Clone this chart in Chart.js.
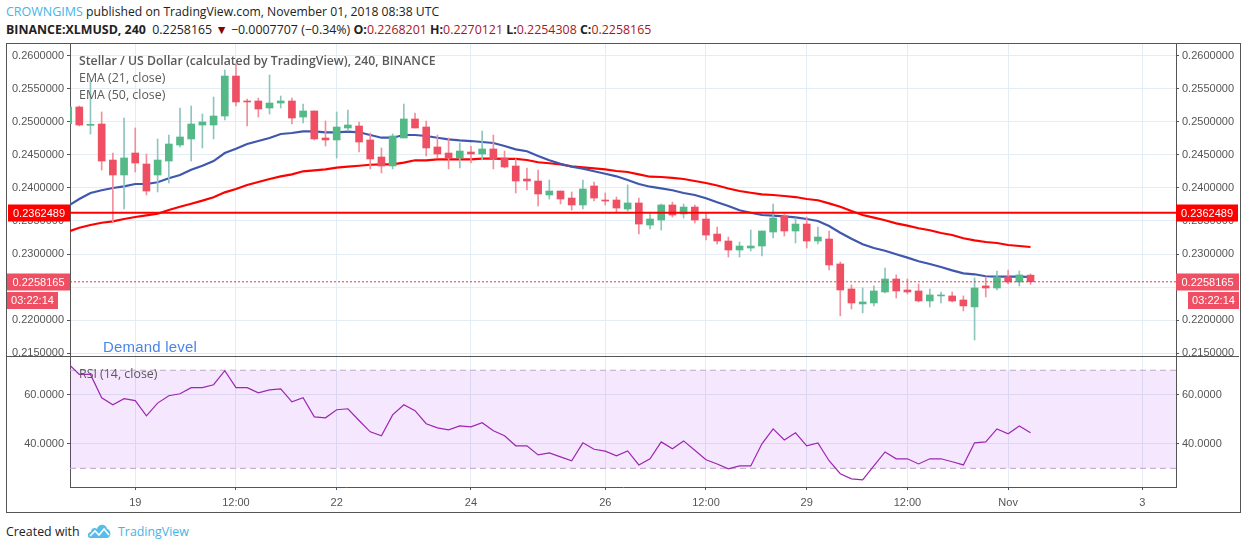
<!DOCTYPE html>
<html>
<head>
<meta charset="utf-8">
<title>XLMUSD</title>
<script src="https://cdn.jsdelivr.net/npm/chart.js@4/dist/chart.umd.min.js"></script>
<style>
    html, body { margin: 0; padding: 0; background: #fff; width: 1246px; height: 549px; overflow: hidden; }
    body { font-family: "Open Sans", sans-serif; position: relative; }
    .abs { position: absolute; white-space: nowrap; }
    #frame { left: 6px; top: 43px; width: 1233px; height: 468px; border: 1px solid #555; }
    #mainCanvas { position: absolute; left: 7px; top: 44px; }
    #rsiCanvas { position: absolute; left: 7px; top: 357px; }
    #sep { left: 7px; top: 356px; width: 1232px; height: 1px; background: #555; }
    .red { color: #a8151a; }
    .legend { color: #5a5a5a; font-size: 12.4px; }
</style>
</head>
<body>
<div class="abs" style="left:6px;top:3px;font-size:12.2px;color:#222"><span style="color:#45b4e6;font-size:12.5px">CROWNGIMS</span> published on TradingView.com, November 01, 2018 08:38 UTC</div>
<div class="abs" style="left:6px;top:21px;font-size:12.4px;color:#222"><b>BINANCE:XLMUSD, 240</b>&nbsp; 0.2258165 <span style="color:#8b0000">▼</span> −0.0007707 (−0.34%) <b>O:</b><span class="red">0.2268201</span> <b>H:</b><span class="red">0.2270121</span> <b>L:</b><span class="red">0.2254308</span> <b>C:</b><span class="red">0.2258165</span></div>

<div class="abs" id="frame"></div>
<canvas id="mainCanvas" width="1232" height="312"></canvas>
<div class="abs" id="sep"></div>
<canvas id="rsiCanvas" width="1232" height="155"></canvas>

<div class="abs legend" style="left:79px;top:52px;font-weight:600;font-size:12.25px">Stellar / US Dollar (calculated by TradingView), 240, BINANCE</div>
<div class="abs legend" style="left:79px;top:69px">EMA (21, close)</div>
<div class="abs legend" style="left:79px;top:86px">EMA (50, close)</div>
<div class="abs" style="left:103px;top:338px;font:15px 'Liberation Sans',sans-serif;color:#4a86e8;letter-spacing:0.2px">Demand level</div>
<div class="abs legend" style="left:79px;top:365px">RSI (14, close)</div>

<div class="abs" style="left:6px;top:523px;font-size:12.4px;color:#222">Created with</div>
<svg class="abs" style="left:87px;top:522px" width="24" height="17" viewBox="0 0 24 17">
    <path d="M3 16 C0 16 0 10 4 10 C4 6 8 5 10 7 C11 2 19 1 20 7 C24 7 25 16 20 16 Z" fill="#56bde8"/>
    <path d="M3 14 L8 9 L12 13 L17 7 L22 13" fill="none" stroke="#fff" stroke-width="1.6"/>
</svg>
<div class="abs" style="left:118px;top:523px;font-size:12.4px;color:#45b4e6">TradingView</div>

<script>
const opens = [.24970,.25222,.24945,.24965,.24421,.24195,.24527,.24361,.24195,.24406,.24648,.24739,.24950,.24950,.25086,.25690,.25313,.25313,.25207,.25282,.25313,.25071,.25162,.24754,.24724,.24905,.24935,.24724,.24467,.24331,.24754,.25041,.24920,.24618,.24527,.24452,.24542,.24512,.24588,.24452,.24331,.24134,.24104,.23893,.23953,.23847,.23742,.24029,.23817,.23817,.23681,.23772,.23439,.23515,.23742,.23606,.23711,.23530,.23303,.23198,.23062,.23092,.23122,.23334,.23575,.23349,.23454,.23198,.23228,.22851,.22473,.22247,.22262,.22428,.22624,.22458,.22443,.22292,.22368,.22368,.22307,.22202,.22519,.22488,.22655,.22579,.2268201];
const highs = [.25222,.25237,.25615,.25147,.24527,.25056,.24905,.24512,.24739,.24799,.25207,.25237,.25116,.25373,.25781,.25872,.25343,.25358,.25706,.25388,.25358,.25267,.25162,.25011,.25147,.25177,.24996,.24829,.24603,.24814,.25267,.25131,.25011,.24799,.24754,.24678,.24633,.24860,.24799,.24557,.24437,.24301,.24270,.24119,.23953,.23938,.24119,.24089,.23923,.23862,.24044,.23847,.23636,.23757,.23787,.23757,.23742,.23621,.23409,.23258,.23183,.23364,.23349,.23757,.23606,.23545,.23560,.23409,.23349,.22881,.22534,.22488,.22519,.22790,.22685,.22624,.22549,.22473,.22428,.22428,.22368,.22640,.22655,.22745,.22760,.22745,.2270121];
const lows = [.24970,.24935,.24814,.24270,.23489,.23681,.24240,.23893,.23938,.24074,.24618,.24406,.24603,.24739,.25026,.25237,.24935,.25071,.25116,.25207,.24965,.24980,.24724,.24633,.24452,.24860,.24542,.24286,.24225,.24286,.24754,.24905,.24482,.24452,.24286,.24301,.24376,.24421,.24286,.24301,.23923,.23968,.23726,.23832,.23757,.23666,.23681,.23802,.23742,.23636,.23651,.23303,.23379,.23364,.23560,.23545,.23470,.23213,.23152,.22956,.22956,.23047,.22972,.23243,.23273,.23168,.23092,.23152,.22760,.22066,.22172,.22111,.22217,.22413,.22337,.22398,.22277,.22202,.22262,.22277,.22141,.21703,.22352,.22458,.22549,.22519,.2254308];
const closes = [.25222,.24950,.24960,.24406,.24195,.24452,.24376,.23953,.24421,.24663,.24769,.24965,.24996,.25086,.25690,.25298,.25298,.25192,.25282,.25313,.25056,.25162,.24739,.24724,.24920,.24950,.24693,.24437,.24331,.24784,.25041,.24905,.24603,.24512,.24452,.24557,.24512,.24588,.24437,.24316,.24104,.24104,.23908,.23953,.23832,.23742,.23983,.23847,.23802,.23696,.23772,.23454,.23530,.23742,.23590,.23711,.23515,.23288,.23198,.23062,.23122,.23122,.23349,.23545,.23349,.23454,.23198,.23258,.22836,.22458,.22262,.22277,.22443,.22624,.22443,.22428,.22292,.22383,.22383,.22292,.22217,.22488,.22488,.22655,.22579,.22685,.2258165];

const ema21 = [.23727,.23832,.23923,.23964,.23998,.24024,.24059,.24059,.24085,.24145,.24195,.24275,.24335,.24406,.24527,.24592,.24663,.24708,.24754,.24814,.24829,.24855,.24855,.24840,.24840,.24849,.24840,.24799,.24758,.24758,.24799,.24799,.24784,.24758,.24734,.24719,.24708,.24693,.24678,.24633,.24583,.24553,.24482,.24417,.24365,.24320,.24290,.24251,.24214,.24175,.24119,.24059,.24018,.23994,.23964,.23923,.23893,.23843,.23782,.23727,.23662,.23625,.23591,.23580,.23571,.23556,.23530,.23500,.23424,.23323,.23233,.23148,.23092,.23051,.22997,.22946,.22891,.22850,.22805,.22755,.22710,.22695,.22665,.22659,.22659,.22659,.22654];
const ema50 = [.23338,.23399,.23440,.23474,.23495,.23530,.23560,.23586,.23610,.23666,.23716,.23761,.23807,.23858,.23933,.23983,.24044,.24089,.24134,.24175,.24205,.24251,.24266,.24281,.24305,.24320,.24335,.24350,.24356,.24356,.24381,.24417,.24417,.24432,.24432,.24432,.24432,.24441,.24441,.24437,.24437,.24421,.24387,.24372,.24356,.24326,.24311,.24296,.24281,.24255,.24240,.24205,.24169,.24165,.24150,.24134,.24104,.24074,.24036,.23991,.23953,.23927,.23903,.23893,.23878,.23862,.23832,.23813,.23767,.23716,.23651,.23591,.23550,.23511,.23465,.23429,.23390,.23360,.23319,.23288,.23239,.23208,.23183,.23168,.23137,.23122,.23107];
const rsi = [72.7,68.3,68.3,58.8,55.9,58.4,57.6,51.4,56.6,59.6,60.4,62.9,62.9,64.1,69.8,62.9,62.9,60.8,62.0,62.4,57.1,58.8,51.0,50.6,53.9,54.3,49.5,44.9,43.3,51.8,55.9,53.5,48.2,46.5,45.7,47.3,46.9,48.6,45.3,43.3,39.2,39.2,35.5,36.3,34.7,33.1,40.4,37.8,37.0,35.1,37.1,31.4,33.9,40.8,38.0,41.2,37.4,33.5,31.8,29.8,31.0,31.0,40.0,46.1,41.6,44.5,39.2,40.4,33.1,27.8,25.7,25.3,31.0,36.7,33.9,33.9,31.8,33.9,33.9,32.7,31.4,40.4,40.8,46.1,44.1,47.3,44.5];

const priceTicks = [0.26, 0.255, 0.25, 0.245, 0.24, 0.235, 0.23, 0.225, 0.22, 0.215];
const rsiTicks = [60, 40];
const timeTickIdx = [6, 15, 24, 36, 48, 57, 66, 75, 84, 96];
const timeTickLabels = ['19', '12:00', '22', '24', '26', '12:00', '29', '12:00', 'Nov', '3'];

const levelLine = 0.2362489;
const lastPrice = 0.2258165;
const rsiUpper = 70;
const rsiLower = 30;

const xMin = 0.17, xMax = 99;
const priceMin = 0.214607, priceMax = 0.261737;
const rsiMin = 22.4, rsiMax = 75.4;
const GREEN = '#53b987', RED = '#ee4f62';
const GREEN_WICK = '#8fc4c0', RED_WICK = '#f28f9d';
const GRID = '#e4edf3', AXIS = '#555';
const TICK_FONT = { family: 'Liberation Sans', size: 11 };

const isUp = i => closes[i] >= opens[i];
const toPoints = arr => arr.map((y, x) => ({ x, y }));
const hLine = y => [{ x: xMin, y }, { x: xMax, y }];

// fix axis sizes so both panes line up with each other
const fixWidth = s => { s.width = 63; s.paddingTop = 0; s.paddingBottom = 0; };

function xScale(showLabels) {
    return {
        type: 'linear', min: xMin, max: xMax, offset: false,
        afterBuildTicks: s => { s.ticks = timeTickIdx.map(value => ({ value })); },
        afterFit: s => { s.height = showLabels ? 25 : 0; s.paddingLeft = 0; s.paddingRight = 0; },
        grid: { color: GRID, offset: false, drawTicks: showLabels, tickLength: 3, tickColor: AXIS },
        border: { display: showLabels, color: AXIS },
        ticks: {
            display: showLabels, autoSkip: false, maxRotation: 0, font: TICK_FONT, color: '#555', padding: 6,
            callback: v => timeTickLabels[timeTickIdx.indexOf(v)]
        }
    };
}

function yScale(position, min, max, tickList, digits, main) {
    return {
        type: 'linear', position, min, max,
        afterBuildTicks: s => { s.ticks = tickList.map(value => ({ value })); },
        afterFit: fixWidth,
        grid: { color: GRID, drawOnChartArea: main, tickLength: 3, tickColor: AXIS },
        border: { color: AXIS },
        ticks: { font: TICK_FONT, color: '#555', padding: 3, autoSkip: false, callback: v => v.toFixed(digits) }
    };
}

// price tags sitting on the axes
function tag(ctx, x, y, w, h, bg, text) {
    ctx.fillStyle = bg;
    ctx.fillRect(x, y, w, h);
    ctx.fillStyle = '#fff';
    ctx.font = "11px 'Liberation Sans'";
    ctx.textAlign = 'center';
    ctx.textBaseline = 'middle';
    ctx.fillText(text, x + w / 2, y + h / 2 + 0.5);
}

const priceTags = {
    id: 'priceTags',
    afterDraw(chart) {
        const { ctx, chartArea: a, scales } = chart;
        const yLevel = Math.round(scales.y.getPixelForValue(levelLine));
        const yLast = Math.round(scales.y.getPixelForValue(lastPrice));
        ctx.save();
        tag(ctx, a.left - 62, yLevel - 8.5, 62, 17, '#ff0000', levelLine.toFixed(7));
        tag(ctx, a.right, yLevel - 8.5, 62, 17, '#ff0000', levelLine.toFixed(7));
        tag(ctx, a.left - 63, yLast - 8.5, 63, 17, RED, lastPrice.toFixed(7));
        tag(ctx, a.right, yLast - 8.5, 63, 17, RED, lastPrice.toFixed(7));
        tag(ctx, a.left - 63, yLast + 10, 51, 17, RED, '03:22:14');
        tag(ctx, a.right + 12, yLast + 10, 51, 17, RED, '03:22:14');
        ctx.restore();
    }
};

const baseOptions = {
    responsive: false,
    animation: false,
    layout: { padding: 0 },
    plugins: { legend: { display: false }, tooltip: { enabled: false } },
    elements: { point: { radius: 0 } }
};

new Chart(document.getElementById('mainCanvas'), {
    type: 'bar',
    data: {
        datasets: [
            { type: 'line', order: 0, data: hLine(levelLine), borderColor: '#ff0000', borderWidth: 2 },
            { type: 'line', order: 1, data: hLine(lastPrice), borderColor: '#e0384e', borderWidth: 1, borderDash: [2, 2] },
            {
                order: 2, grouped: false, barThickness: 7,
                data: opens.map((o, i) => ({ x: i, y: [Math.min(o, closes[i]), Math.max(o, closes[i])] })),
                backgroundColor: c => isUp(c.dataIndex) ? GREEN : RED
            },
            {
                order: 3, grouped: false, barThickness: 1,
                data: highs.map((h, i) => ({ x: i, y: [lows[i], h] })),
                backgroundColor: c => isUp(c.dataIndex) ? GREEN_WICK : RED_WICK
            },
            { type: 'line', order: 4, data: toPoints(ema21), borderColor: '#3f57ad', borderWidth: 2.2, tension: 0 },
            { type: 'line', order: 5, data: toPoints(ema50), borderColor: '#ff0000', borderWidth: 2.2, tension: 0 }
        ]
    },
    options: {
        ...baseOptions,
        scales: {
            x: xScale(false),
            y: yScale('left', priceMin, priceMax, priceTicks, 7, true),
            yRight: yScale('right', priceMin, priceMax, priceTicks, 7, false)
        }
    },
    plugins: [priceTags]
});

new Chart(document.getElementById('rsiCanvas'), {
    type: 'line',
    data: {
        datasets: [
            { order: 0, data: toPoints(rsi), borderColor: '#9c27b0', borderWidth: 1.2, tension: 0 },
            { order: 1, data: hLine(rsiUpper), borderColor: '#bda9c6', borderWidth: 1, borderDash: [6, 4], fill: { value: rsiLower }, backgroundColor: 'rgba(153,21,237,0.1)' },
            { order: 2, data: hLine(rsiLower), borderColor: '#bda9c6', borderWidth: 1, borderDash: [6, 4] }
        ]
    },
    options: {
        ...baseOptions,
        scales: {
            x: xScale(true),
            y: yScale('left', rsiMin, rsiMax, rsiTicks, 4, true),
            yRight: yScale('right', rsiMin, rsiMax, rsiTicks, 4, false)
        }
    }
});
</script>
</body>
</html>
